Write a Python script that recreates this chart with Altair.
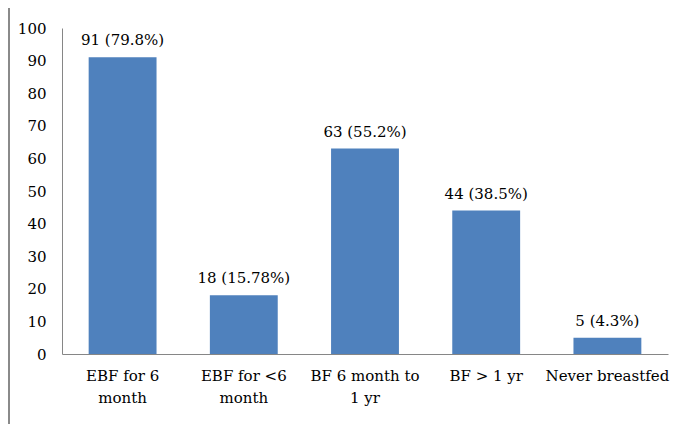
import altair as alt
import pandas as pd

categories = ["EBF for 6\nmonth", "EBF for <6\nmonth", "BF 6 month to\n1 yr", "BF > 1 yr", "Never breastfed"]
counts = [91, 18, 63, 44, 5]
bar_labels = ["91 (79.8%)", "18 (15.78%)", "63 (55.2%)", "44 (38.5%)", "5 (4.3%)"]
y_ticks = [0, 10, 20, 30, 40, 50, 60, 70, 80, 90, 100]

df = pd.DataFrame({"cat": categories, "value": counts, "label": bar_labels})

FONT = "DejaVu Serif"
FS = 15

base = alt.Chart(df).encode(
    x=alt.X("cat:N", sort=categories, title=None,
            scale=alt.Scale(paddingInner=0.44, paddingOuter=0.22),
            axis=alt.Axis(labelAngle=0, labelExpr="split(datum.label, '\\n')",
                          labelLineHeight=22, labelPadding=14, ticks=False,
                          labelLimit=200, labelOverlap=False)),
    y=alt.Y("value:Q", title=None,
            scale=alt.Scale(domain=[0, 100], nice=False),
            axis=alt.Axis(values=y_ticks, ticks=False, grid=False,
                          labelPadding=16, labelOverlap=False)),
)

bars = base.mark_bar(color="#4F81BD")
text = base.mark_text(dy=-12, baseline="alphabetic", font=FONT,
                      fontSize=FS, color="black").encode(text="label:N")

border_top = alt.Chart(df).mark_rule(color="#8a8a8a", strokeWidth=2).encode(
    x=alt.value(-54), x2=alt.value(700), y=alt.value(-21))
border_left = alt.Chart(df).mark_rule(color="#8a8a8a", strokeWidth=2).encode(
    x=alt.value(-53), y=alt.value(-22), y2=alt.value(500))

chart = alt.layer(bars, text, border_top, border_left).properties(
    width=606, height=326,
    padding={"left": 54, "top": 20, "right": 3, "bottom": 70},
    autosize=alt.AutoSizeParams(type="none"),
    background="white",
).configure_view(
    strokeWidth=0
).configure_axis(
    labelFont=FONT, labelFontSize=FS, labelColor="black",
    domainColor="#868686", labelOverlap=False
).configure_text(font=FONT, fontSize=FS)

chart.save("out.html", embed_options={"renderer": "svg", "actions": False})
